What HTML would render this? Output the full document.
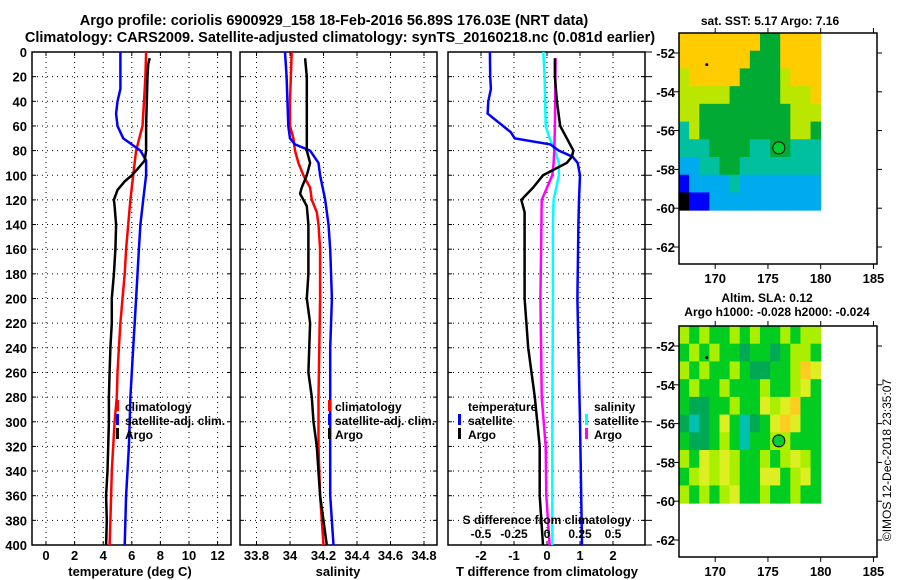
<!DOCTYPE html>
<html><head><meta charset="utf-8">
<style>
body{margin:0;background:#fff;}
svg{display:block;font-family:"Liberation Sans",Arial,sans-serif;font-weight:bold;}
</style></head>
<body>
<svg id="c" width="900" height="580" viewBox="0 0 900 580" xmlns="http://www.w3.org/2000/svg">
<text x="334" y="25" font-size="14.5" text-anchor="middle">Argo profile: coriolis 6900929_158 18-Feb-2016 56.89S 176.03E (NRT data)</text>
<text x="340" y="42" font-size="14.5" text-anchor="middle">Climatology: CARS2009. Satellite-adjusted climatology: synTS_20160218.nc (0.081d earlier)</text>
<text x="770" y="25" font-size="12" text-anchor="middle">sat. SST: 5.17 Argo: 7.16</text>
<text x="767" y="302" font-size="12" text-anchor="middle">Altim. SLA: 0.12</text>
<text x="777" y="316" font-size="12" text-anchor="middle">Argo h1000: -0.028 h2000: -0.024</text>
<text transform="translate(891,460) rotate(-90)" font-size="12" font-weight="normal" text-anchor="middle">©IMOS 12-Dec-2018 23:35:07</text>
</svg>
<script>
// ---- data ----
const depthTicks=[0,20,40,60,80,100,120,140,160,180,200,220,240,260,280,300,320,340,360,380,400];
const tTicks=[0,2,4,6,8,10,12];
const sTicks=[33.8,34,34.2,34.4,34.6,34.8];
const sTickLabels=["33.8","34","34.2","34.4","34.6","34.8"];
const dTicks=[-2,-1,0,1,2];
const dsTicks=[-0.5,-0.25,0,0.25,0.5];
const dsTickLabels=["-0.5","-0.25","0","0.25","0.5"];
// temperature
const climTDepth=[0,20,40,60,80,100,120,140,160,180,200,220,240,260,280,300,320,340,360,380,400];
const climT=[7.0,6.95,6.85,6.75,6.3,6.1,5.9,5.75,5.6,5.5,5.35,5.2,5.1,5.0,4.95,4.8,4.7,4.6,4.55,4.5,4.45];
const satTDepth=[0,20,30,40,50,60,70,80,88,100,120,140,160,180,200,220,240,260,280,300,320,340,360,380,400];
const satT=[5.2,5.2,5.2,5.0,4.9,5.0,5.4,6.6,7.0,7.0,6.8,6.6,6.5,6.4,6.3,6.2,6.1,6.0,5.9,5.85,5.8,5.7,5.6,5.55,5.5];
const argoTDepth=[5,10,20,40,60,80,88,95,100,105,112,120,125,140,160,180,200,220,240,260,280,300,320,340,360,380,400];
const argoT=[7.25,7.15,7.1,7.05,7.0,7.0,6.9,6.4,6.0,5.5,5.0,4.75,4.8,4.9,4.85,4.75,4.6,4.6,4.5,4.45,4.4,4.4,4.35,4.3,4.2,4.25,4.2];
// salinity
const climSDepth=[0,40,60,70,80,90,100,110,120,130,140,160,200,280,320,360,400];
const climS=[34.01,34.0,34.0,34.02,34.03,34.05,34.08,34.12,34.13,34.16,34.17,34.18,34.18,34.17,34.17,34.18,34.2];
const satSDepth=[0,20,60,70,75,80,90,100,120,140,160,200,240,300,360,400];
const satS=[33.97,33.98,33.99,34.0,34.03,34.12,34.17,34.18,34.21,34.23,34.24,34.25,34.24,34.24,34.24,34.26];
const argoSDepth=[5,20,60,80,90,100,110,115,125,140,180,200,220,260,280,300,320,360,400];
const argoS=[34.09,34.1,34.1,34.1,34.12,34.1,34.07,34.06,34.1,34.11,34.11,34.1,34.12,34.11,34.13,34.14,34.16,34.18,34.22];
// differences
const satDTDepth=[0,20,30,40,50,65,70,75,80,85,90,100,120,140,200,300,400];
const satDT=[-1.73,-1.72,-1.7,-1.78,-1.8,-1.1,-0.98,0.1,0.36,0.78,0.93,1.0,0.97,0.95,0.92,1.0,1.06];
const argoDTDepth=[5,20,40,60,70,80,85,90,100,110,120,130,160,200,240,280,320,360,400];
const argoDT=[0.24,0.24,0.3,0.4,0.6,0.8,0.75,0.6,-0.12,-0.42,-0.78,-0.68,-0.68,-0.68,-0.57,-0.37,-0.22,-0.22,-0.12];
const satDSDepth=[0,20,60,70,80,90,100,120,140,200,300,400];
const satDS=[-0.028,-0.018,-0.01,0.02,0.06,0.09,0.09,0.05,0.045,0.045,0.04,0.04];
const argoDSDepth=[5,60,80,90,100,110,120,160,200,240,280,320,360,400];
const argoDS=[0.065,0.06,0.055,0.05,0.04,0.0,-0.04,-0.045,-0.05,-0.045,-0.04,-0.01,-0.005,0.02];
// maps
const lonTicks=[170,175,180,185];
const latTicks=[-52,-54,-56,-58,-60,-62];
const sstGrid=["OOOOOOOOGGOOOO","OOOOOOOGGGOOOO","YOOOOOGGGGYOOO","YYYYYGGGGGYYYO","YYGGGGGGGGGYYY","CYGGGGGGGGGYYG","CCCGGGGCCGGCCC","BBCCGGCCCCCCCC","DBBBBCBBBBBBBB","KDDBBBBBBBBBBB"];
const slaGrid=["LGLGGLGLGGLGLL","GLGLGGMGGMGLLG","LGLGGLGMMGGLOY","GLGGLGGGLGGLYG","GMMGGLGGYLYOGG","MCMGYGCMGYOYGG","GMMGLGCGGLLGGG","LGYLYLGGLGLYLG","GLYLYLGGYYGLYG","LGLGLYGGLGGLGG"];
const argoLon=176.03, argoLat=-56.89;
const nearLon=169.2, nearLat=-52.6;

const svg=document.getElementById('c');
const NS='http://www.w3.org/2000/svg';
function mk(tag,attrs,parent){const e=document.createElementNS(NS,tag);for(const k in attrs)e.setAttribute(k,attrs[k]);(parent||svg).appendChild(e);return e;}
const topY=52,botY=545;
const yD=d=>topY+d*(botY-topY)/400;

function panel(x0,x1,xs,gridVals,name){
  const g=mk('g',{});
  
  
  gridVals.forEach(v=>{const l=mk('line',{x1:xs(v),x2:xs(v),y1:topY,y2:botY,stroke:'#000','stroke-width':1,'stroke-dasharray':'1,4'},g);
    });
  depthTicks.forEach(d=>{const l=mk('line',{x1:x0,x2:x1,y1:yD(d),y2:yD(d),stroke:'#000','stroke-width':1,'stroke-dasharray':'1,4'},g);
    
    mk('line',{x1:x0,x2:x0+4,y1:yD(d),y2:yD(d),stroke:'#000'},g);mk('line',{x1:x1-4,x2:x1,y1:yD(d),y2:yD(d),stroke:'#000'},g);});
  gridVals.forEach(v=>{mk('line',{x1:xs(v),x2:xs(v),y1:botY,y2:botY-4,stroke:'#000'},g);mk('line',{x1:xs(v),x2:xs(v),y1:topY,y2:topY+4,stroke:'#000'},g);});
  const r=mk('rect',{x:x0,y:topY,width:x1-x0,height:botY-topY,fill:'none',stroke:'#000','stroke-width':1.5},g);
  
  return g;
}
function series(g,xs,vals,depths,color,name,w){
  const pts=vals.map((v,i)=>xs(v).toFixed(1)+','+yD(depths[i]).toFixed(1)).join(' ');
  const p=mk('polyline',{points:pts,fill:'none',stroke:color,'stroke-width':w||2.5,'stroke-linejoin':'miter'},g);
  
  
}
function txt(s,x,y,anchor,size,name,parent){const t=mk('text',{x:x,y:y,'text-anchor':anchor||'middle','font-size':size||13},parent);t.textContent=s;
  return t;}
function legBar(x,y,color,parent){const r=mk('rect',{x:x,y:y,width:3,height:11,fill:color},parent);
  }

// Panel 1 temperature
const xT=v=>46+v*14.3;
const g1=panel(32,231,xT,tTicks,'temperature-panel');
series(g1,xT,climT,climTDepth,'#f00','climatology-temperature-line');
series(g1,xT,satT,satTDepth,'#00f','satellite-temperature-line');
series(g1,xT,argoT,argoTDepth,'#000','argo-temperature-line');
tTicks.forEach(v=>txt(String(v),xT(v),560,'middle',13,'x-tick-label',g1));
depthTicks.forEach(d=>txt(String(d),27,yD(d)+5,'end',13,'y-tick-label',g1));
txt('temperature (deg C)',130,576,'middle',13,'x-axis-title',g1);
legBar(116,400,'#f00',g1);legBar(116,414,'#00f',g1);legBar(116,428,'#000',g1);
txt('climatology',125,411,'start',12,'legend-entry',g1);
txt('satellite-adj. clim.',125,425,'start',12,'legend-entry',g1);
txt('Argo',125,439,'start',12,'legend-entry',g1);

// Panel 2 salinity
const xS=v=>290+(v-34)*167.5;
const g2=panel(240,437,xS,sTicks,'salinity-panel');
series(g2,xS,climS,climSDepth,'#f00','climatology-salinity-line');
series(g2,xS,satS,satSDepth,'#00f','satellite-salinity-line');
series(g2,xS,argoS,argoSDepth,'#000','argo-salinity-line');
sTicks.forEach((v,i)=>txt(sTickLabels[i],xS(v),560,'middle',13,'x-tick-label',g2));
txt('salinity',338,576,'middle',13,'x-axis-title',g2);
legBar(328,400,'#f00',g2);legBar(328,414,'#00f',g2);legBar(328,428,'#000',g2);
txt('climatology',335,411,'start',12,'legend-entry',g2);
txt('satellite-adj. clim.',335,425,'start',12,'legend-entry',g2);
txt('Argo',335,439,'start',12,'legend-entry',g2);

// Panel 3 differences
const xDT=v=>547+v*33;
const xDS=v=>547+v*132;
const g3=panel(448,645,xDT,dTicks,'difference-panel');
depthTicks.forEach(d=>mk('line',{x1:645,x2:652,y1:yD(d),y2:yD(d),stroke:'#000'},g3));
series(g3,xDS,satDS,satDSDepth,'#0ff','satellite-salinity-diff-line');
series(g3,xDS,argoDS,argoDSDepth,'#f0f','argo-salinity-diff-line');
series(g3,xDT,satDT,satDTDepth,'#00f','satellite-temperature-diff-line');
series(g3,xDT,argoDT,argoDTDepth,'#000','argo-temperature-diff-line');
dTicks.forEach(v=>txt(String(v),xDT(v),560,'middle',13,'x-tick-label',g3));
txt('T difference from climatology',547,576,'middle',13,'x-axis-title',g3);
txt('S difference from climatology',547,524,'middle',12,'secondary-axis-title',g3);
dsTicks.forEach((v,i)=>txt(dsTickLabels[i],xDS(v),538,'middle',12,'secondary-tick-label',g3));
txt('temperature',468,411,'start',12,'legend-title',g3);
legBar(458,414,'#00f',g3);legBar(458,428,'#000',g3);
txt('satellite',468,425,'start',12,'legend-entry',g3);
txt('Argo',468,439,'start',12,'legend-entry',g3);
txt('salinity',594,411,'start',12,'legend-title',g3);
legBar(585,414,'#0ff',g3);legBar(585,428,'#f0f',g3);
txt('satellite',594,425,'start',12,'legend-entry',g3);
txt('Argo',594,439,'start',12,'legend-entry',g3);

// Maps
const sstCol={O:'#ffcc00',Y:'#bbe600',G:'#00aa33',C:'#00c0a0',B:'#00aaee',D:'#0000ff',K:'#000000'};
const slaCol={L:'#aaee00',G:'#00cc22',M:'#00aa55',Y:'#ddee22',O:'#ffcc22',C:'#00c0b0'};
function map(top0,grid,cols,name){
  const g=mk('g',{});
  
  
  const x0=679,x1=877,lat52=top0+20,pd=19.4;
  const xL=lon=>820.7+(lon-180)*10.55;
  const yL=lat=>lat52+(-52-lat)*pd;
  const bottom=top0+231;
  const dLeft=x0,dRight=xL(180),dTop=top0,dBot=yL(-60.1);
  const nr=grid.length,nc=grid[0].length;
  const cw=(dRight-dLeft)/nc,ch=(dBot-dTop)/nr;
  grid.forEach((row,r)=>{for(let c=0;c<nc;c++){
    const cell=mk('rect',{x:dLeft+c*cw,y:dTop+r*ch,width:cw+0.5,height:ch+0.5,fill:cols[row[c]]},g);
    
    }});
  const fr=mk('rect',{x:x0,y:top0,width:x1-x0,height:bottom-top0,fill:'none',stroke:'#000','stroke-width':1.5},g);
  
  lonTicks.forEach(l=>{mk('line',{x1:xL(l),x2:xL(l),y1:bottom,y2:bottom+5,stroke:'#000'},g);mk('line',{x1:xL(l),x2:xL(l),y1:top0,y2:top0-5,stroke:'#000'},g);
    txt(String(l),xL(l),bottom+19,'middle',13,'lon-tick-label',g);});
  latTicks.forEach(l=>{mk('line',{x1:x0-5,x2:x0,y1:yL(l),y2:yL(l),stroke:'#000'},g);mk('line',{x1:x1,x2:x1+5,y1:yL(l),y2:yL(l),stroke:'#000'},g);
    txt(String(l),675,yL(l)+5,'end',13,'lat-tick-label',g);});
  const m=mk('circle',{cx:xL(argoLon),cy:yL(argoLat),r:6,fill:'#00cc33',stroke:'#000','stroke-width':1},g);
  
  const d=mk('circle',{cx:xL(nearLon),cy:yL(nearLat),r:1.5,fill:'#000'},g);
  
}
map(33,sstGrid,sstCol,'sst-map');
map(326,slaGrid,slaCol,'sla-map');
</script>
</body></html>
